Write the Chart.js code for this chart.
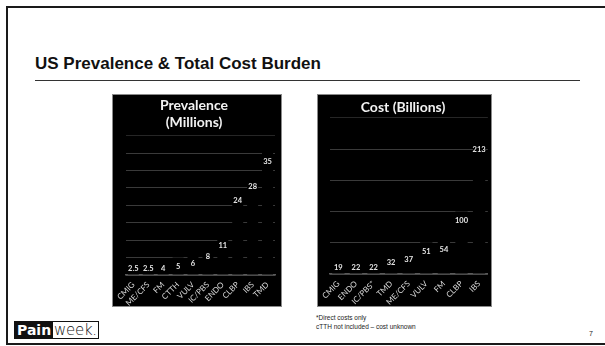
<!DOCTYPE html>
<html lang="en">
<head>
  <meta charset="UTF-8">
  <title>US Prevalence & Total Cost Burden</title>
  <script src="https://cdn.jsdelivr.net/npm/chart.js"></script>
  <style>
    body {
      margin: 0;
      width: 605px;
      height: 346px;
      position: relative;
      overflow: hidden;
      background: #fff;
      font-family: "Liberation Sans", Arial, sans-serif;
    }
    .frame-top { position: absolute; left: 6px; top: 6px; width: 599px; height: 2px; background: #1a1a1a; }
    .frame-left { position: absolute; left: 6px; top: 6px; width: 2px; height: 339px; background: #1a1a1a; }
    .frame-bottom { position: absolute; left: 6px; top: 343px; width: 599px; height: 2px; background: #1a1a1a; }

    .title {
      position: absolute;
      left: 35px;
      top: 54px;
      font-size: 17px;
      line-height: 20px;
      font-weight: bold;
      color: #111;
    }
    .rule { position: absolute; left: 35px; top: 80px; width: 545px; height: 1px; background: #333; }

    .panel {
      position: absolute;
      top: 94px;
      height: 211px;
      background: #000;
      border: 1px solid #8a8a8a;
    }
    .panel canvas { position: absolute; left: 0; top: 0; }

    .note {
      position: absolute;
      left: 316px;
      top: 313px;
      font-size: 6.5px;
      line-height: 9px;
      color: #222;
    }
    .pagenum { position: absolute; left: 589px; top: 330px; font-size: 7px; color: #222; }

    .logo {
      position: absolute;
      left: 14px;
      top: 321px;
      height: 16px;
      border: 1px solid #111;
      display: flex;
      align-items: stretch;
      line-height: 16px;
    }
    .logo .pain {
      background: #111;
      color: #fff;
      font-family: "DejaVu Sans", sans-serif;
      font-weight: bold;
      font-size: 14px;
      padding: 0 2px;
    }
    .logo .week {
      color: #111;
      font-family: "DejaVu Sans", sans-serif;
      font-weight: 200;
      font-size: 15px;
      padding: 0 1px 0 1px;
      letter-spacing: -0.3px;
    }
  </style>
</head>
<body>
  <div class="frame-top"></div>
  <div class="frame-left"></div>
  <div class="frame-bottom"></div>

  <div class="title">US Prevalence &amp; Total Cost Burden</div>
  <div class="rule"></div>

  <div class="panel" style="left:112px; width:168px;">
    <canvas id="prevChart" width="168" height="211"></canvas>
  </div>
  <div class="panel" style="left:317px; width:173px;">
    <canvas id="costChart" width="173" height="211"></canvas>
  </div>

  <div class="note">*Direct costs only<br>cTTH not included – cost unknown</div>
  <div class="pagenum">7</div>
  <div class="logo"><span class="pain">Pain</span><span class="week">week.</span></div>

  <script>
    // Prevalence (millions)
    const prevLabels = ['CMIG', 'ME/CFS', 'FM', 'CTTH', 'VULV', 'IC/PBS', 'ENDO', 'CLBP', 'IBS', 'TMD'];
    const prevValues = [2.5, 2.5, 4, 5, 6, 8, 11, 24, 28, 35];
    const prevTicks = { max: 40, step: 5 };

    // Cost (billions)
    const costLabels = ['CMIG', 'ENDO', 'IC/PBS*', 'TMD', 'ME/CFS', 'VULV', 'FM', 'CLBP', 'IBS'];
    const costValues = [19, 22, 22, 32, 37, 51, 54, 100, 213];
    const costTicks = { max: 250, step: 50 };

    const labelFont = 'Lato, "DejaVu Sans", sans-serif';

    // value labels just inside the top of each bar
    const valueLabels = {
      id: 'valueLabels',
      afterDatasetsDraw(chart) {
        const ctx = chart.ctx;
        const meta = chart.getDatasetMeta(0);
        const axisY = chart.scales.y.getPixelForValue(0);
        ctx.save();
        ctx.fillStyle = '#e6e6e6';
        ctx.font = 'bold 7.5px ' + labelFont;
        ctx.textAlign = 'center';
        ctx.textBaseline = 'middle';
        meta.data.forEach((bar, i) => {
          const y = Math.min(bar.y + 9, axisY - 6);
          ctx.fillText(String(chart.data.datasets[0].data[i]), bar.x, y);
        });
        ctx.restore();
      }
    };

    function makeChart(id, labels, values, ticks, title, opts) {
      return new Chart(document.getElementById(id), {
        type: 'bar',
        data: {
          labels: labels,
          datasets: [{
            data: values,
            backgroundColor: '#000',
            categoryPercentage: 1,
            barPercentage: opts.barPct
          }]
        },
        options: {
          responsive: false,
          animation: false,
          events: [],
          layout: { padding: { left: 0, right: opts.padRight, top: 0, bottom: 0 } },
          plugins: {
            legend: { display: false },
            tooltip: { enabled: false },
            title: {
              display: true,
              text: title,
              color: '#f2f2f2',
              font: { family: labelFont, size: 14, weight: 'bold', lineHeight: 1.2 },
              padding: { top: opts.titleTop, bottom: opts.titleBottom }
            }
          },
          scales: {
            x: {
              grid: { display: false, drawTicks: false },
              border: { display: true, color: '#5a5a5a', width: 1.5 },
              ticks: {
                color: '#d8d8d8',
                font: { family: labelFont, size: 8 },
                minRotation: 45,
                maxRotation: 45,
                padding: 5,
                autoSkip: false
              },
              afterFit(scale) { scale.height = opts.xHeight; }
            },
            y: {
              min: 0,
              max: ticks.max,
              ticks: { display: false, stepSize: ticks.step },
              border: { display: false },
              grid: {
                color: c => c.tick && c.tick.value === ticks.max ? '#262626' : '#3a3a3a',
                lineWidth: 1,
                drawTicks: false
              },
              afterFit(scale) { scale.width = opts.yWidth; }
            }
          }
        },
        plugins: [valueLabels]
      });
    }

    makeChart('prevChart', prevLabels, prevValues, prevTicks, ['Prevalence', '(Millions)'],
      { barPct: 0.74, padRight: 6, yWidth: 12, xHeight: 31, titleTop: 2, titleBottom: 5 });
    makeChart('costChart', costLabels, costValues, costTicks, 'Cost (Billions)',
      { barPct: 0.7, padRight: 3, yWidth: 11, xHeight: 32, titleTop: 4, titleBottom: 2 });
  </script>
</body>
</html>
